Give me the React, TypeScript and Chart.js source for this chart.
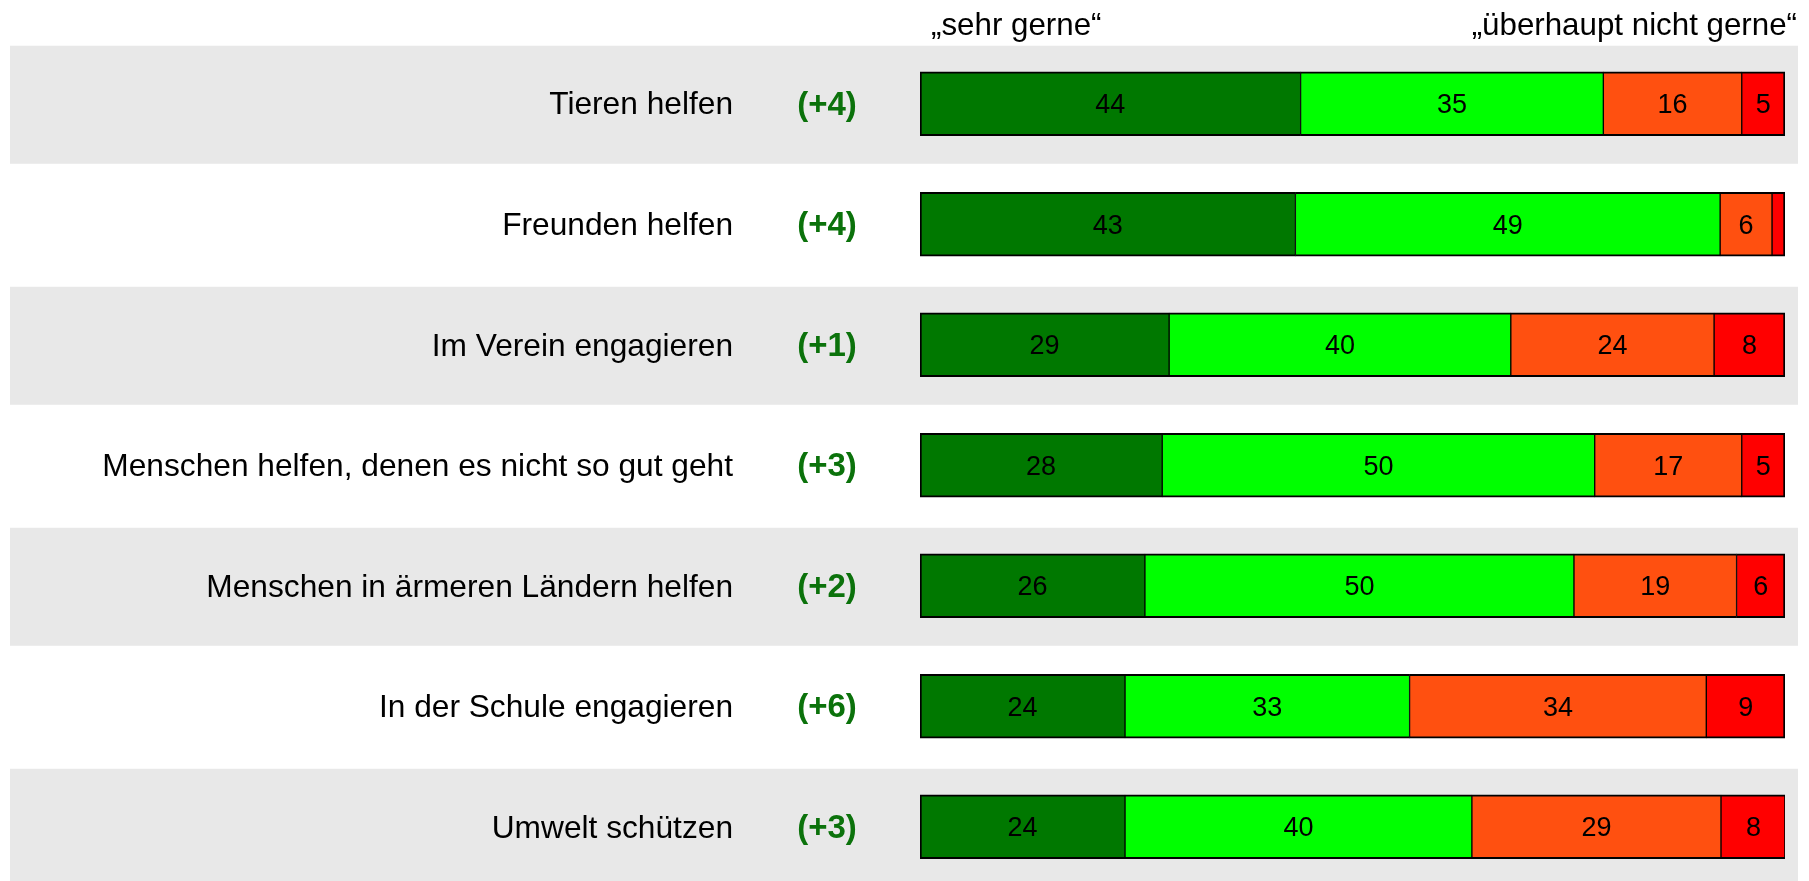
import React, { useEffect, useRef } from 'react';
import { Chart, registerables } from 'chart.js';

Chart.register(...registerables);

const categories = [
  'Tieren helfen',
  'Freunden helfen',
  'Im Verein engagieren',
  'Menschen helfen, denen es nicht so gut geht',
  'Menschen in ärmeren Ländern helfen',
  'In der Schule engagieren',
  'Umwelt schützen',
];
const changes = ['(+4)', '(+4)', '(+1)', '(+3)', '(+2)', '(+6)', '(+3)'];

const sehrGerne = [44, 43.4, 28.8, 28, 26, 23.7, 23.7];
const eherGerne = [35, 49.1, 39.5, 50, 49.6, 32.9, 40.1];
const eherNicht = [16, 6, 23.5, 17, 18.8, 34.3, 28.8];
const ueberhauptNicht = [5, 1.5, 8.2, 5, 5.6, 9.1, 7.5];

const seriesNames = ['sehr gerne', 'eher gerne', 'eher nicht gerne', 'überhaupt nicht gerne'];
const seriesColors = ['#007800', '#00ff00', '#ff5010', '#ff0000'];
const headerLeft = '\u201Esehr gerne\u201C';
const headerRight = '\u201Eüberhaupt nicht gerne\u201C';

const FONT = '"Liberation Sans", Arial, sans-serif';

export default function App() {
  const ref = useRef<HTMLCanvasElement | null>(null);

  useEffect(() => {
    document.body.style.margin = '0';
    const canvas = ref.current;
    if (!canvas) return;

    const allSeries = [sehrGerne, eherGerne, eherNicht, ueberhauptNicht];
    const n = allSeries.length;

    const decor = {
      id: 'decor',
      beforeDraw(chart: any) {
        const ctx = chart.ctx;
        const ys = chart.scales.y;
        ctx.save();
        ctx.fillStyle = '#e8e8e8';
        categories.forEach((_, i) => {
          if (i % 2 === 0) {
            const c = ys.getPixelForValue(i);
            ctx.fillRect(10, c - 58, 1788, 118);
          }
        });
        ctx.restore();
      },
      afterDatasetsDraw(chart: any) {
        const ctx = chart.ctx;
        const ys = chart.scales.y;
        ctx.save();
        ctx.textBaseline = 'middle';
        categories.forEach((lab, i) => {
          const c = ys.getPixelForValue(i);
          ctx.font = `31.7px ${FONT}`;
          ctx.fillStyle = '#000';
          ctx.textAlign = 'right';
          ctx.fillText(lab, 733, c + 2);
          ctx.font = `bold 33px ${FONT}`;
          ctx.fillStyle = '#0b720b';
          ctx.textAlign = 'center';
          ctx.fillText(changes[i], 827, c + 2);
        });
        ctx.font = `27px ${FONT}`;
        ctx.fillStyle = '#000';
        ctx.textAlign = 'center';
        chart.data.datasets.forEach((ds: any, di: number) => {
          const meta = chart.getDatasetMeta(di);
          meta.data.forEach((el: any, i: number) => {
            const v = allSeries[di][i];
            if (v < 3) return;
            const x = (el.x + el.base) / 2;
            ctx.fillText(String(Math.round(v)), x, el.y + 2);
          });
        });
        ctx.font = `31.3px ${FONT}`;
        ctx.textBaseline = 'alphabetic';
        ctx.textAlign = 'left';
        ctx.fillText(headerLeft, 931, 35);
        ctx.textAlign = 'right';
        ctx.fillText(headerRight, 1797, 35);
        ctx.restore();
      },
    };

    const datasets = allSeries.map((vals, di) => ({
      label: seriesNames[di],
      data: vals.map((v, i) => ({ x: v, y: i })),
      backgroundColor: seriesColors[di],
      borderColor: '#000000',
      borderWidth: {
        top: 2,
        bottom: 2,
        left: di === 0 ? 2 : 1,
        right: di === n - 1 ? 2 : 1,
      },
      borderSkipped: false,
      barThickness: 64,
    }));

    const chart = new Chart(canvas, {
      type: 'bar',
      data: { datasets } as any,
      options: {
        indexAxis: 'y',
        responsive: false,
        animation: false,
        layout: { padding: { left: 920, right: 24, top: 43.5, bottom: 0 } },
        plugins: {
          legend: { display: false },
          tooltip: { enabled: false },
          title: { display: false },
        },
        scales: {
          x: { type: 'linear', min: 0, max: 100, stacked: true, display: false, offset: false },
          y: {
            type: 'linear',
            min: -0.5,
            max: 6.45,
            reverse: true,
            stacked: true,
            display: false,
            offset: false,
            grace: 0,
          },
        },
      } as any,
      plugins: [decor],
    });

    return () => chart.destroy();
  }, []);

  return (
    <div style={{ width: 1809, height: 881, background: '#fff' }}>
      <canvas ref={ref} width={1809} height={881} style={{ display: 'block', width: 1809, height: 881 }} />
    </div>
  );
}
